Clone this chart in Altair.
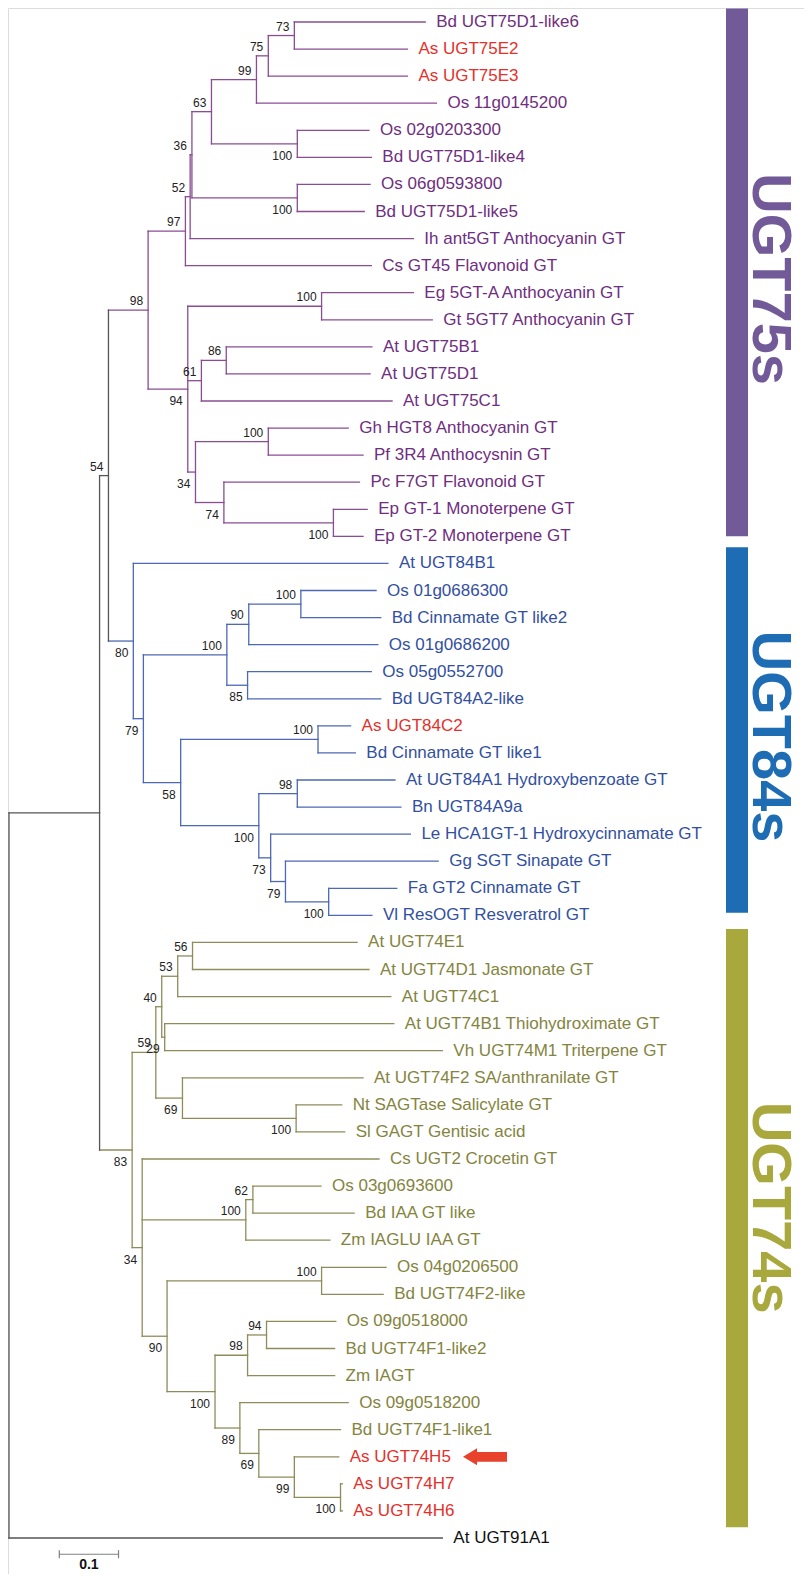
import altair as alt
import pandas as pd

# ---------------- data ----------------
leaf_names = [
    "Bd UGT75D1-like6", "As UGT75E2", "As UGT75E3", "Os 11g0145200", "Os 02g0203300",
    "Bd UGT75D1-like4", "Os 06g0593800", "Bd UGT75D1-like5", "Ih ant5GT Anthocyanin GT",
    "Cs GT45 Flavonoid GT", "Eg 5GT-A Anthocyanin GT", "Gt 5GT7 Anthocyanin GT",
    "At UGT75B1", "At UGT75D1", "At UGT75C1", "Gh HGT8 Anthocyanin GT",
    "Pf 3R4 Anthocysnin GT", "Pc F7GT Flavonoid GT", "Ep GT-1 Monoterpene GT",
    "Ep GT-2 Monoterpene GT",
    "At UGT84B1", "Os 01g0686300", "Bd Cinnamate GT like2", "Os 01g0686200",
    "Os 05g0552700", "Bd UGT84A2-like", "As UGT84C2", "Bd Cinnamate GT like1",
    "At UGT84A1 Hydroxybenzoate GT", "Bn UGT84A9a", "Le HCA1GT-1 Hydroxycinnamate GT",
    "Gg SGT Sinapate GT", "Fa GT2 Cinnamate GT", "Vl ResOGT Resveratrol GT",
    "At UGT74E1", "At UGT74D1 Jasmonate GT", "At UGT74C1", "At UGT74B1 Thiohydroximate  GT",
    "Vh UGT74M1 Triterpene GT", "At UGT74F2 SA/anthranilate GT", "Nt SAGTase Salicylate GT",
    "Sl GAGT Gentisic acid", "Cs UGT2 Crocetin GT", "Os 03g0693600", "Bd IAA GT like",
    "Zm IAGLU IAA GT", "Os 04g0206500", "Bd UGT74F2-like", "Os 09g0518000",
    "Bd UGT74F1-like2", "Zm IAGT", "Os 09g0518200", "Bd UGT74F1-like1",
    "As UGT74H5", "As UGT74H7", "As UGT74H6", "At UGT91A1",
]

# distance from the root to each tip
leaf_tip = [
    0.703, 0.673, 0.673, 0.722, 0.608, 0.612, 0.610, 0.600, 0.683, 0.612,
    0.683, 0.715, 0.613, 0.610, 0.647, 0.573, 0.598, 0.592, 0.605, 0.598,
    0.640, 0.620, 0.628, 0.623, 0.612, 0.628, 0.577, 0.585, 0.652, 0.662,
    0.678, 0.725, 0.655, 0.613,
    0.588, 0.608, 0.645, 0.650, 0.732, 0.598, 0.562, 0.567,
    0.625, 0.527, 0.583, 0.542, 0.637, 0.632, 0.552, 0.550, 0.550, 0.573,
    0.560, 0.557, 0.563, 0.563, 0.732,
]

node_ids = [
    "root", "n_in", "n54", "n98", "n97", "n52", "n36", "n63", "n99", "n75", "n73",
    "n100a", "n100b", "n94", "n100c", "n61", "n86", "n34a", "n100d", "n74", "n100e",
    "n80", "n79", "n100g", "n90", "n100f", "n85", "n58", "n100h", "n100j", "n98b",
    "n73b", "n79b", "n100i",
    "n83", "n59", "n40", "n53", "n56", "n29", "n69", "n100k", "n34b", "n100l", "n62",
    "n90c", "n100m", "n100o", "n98c", "n94b", "n89", "n69b", "n99c", "n100n",
]

node_x = [
    0.000, 0.153, 0.168, 0.235, 0.298, 0.306, 0.309, 0.342, 0.418, 0.438, 0.482,
    0.487, 0.487, 0.302, 0.528, 0.325, 0.367, 0.315, 0.438, 0.363, 0.548,
    0.210, 0.227, 0.368, 0.405, 0.493, 0.403, 0.290, 0.522, 0.422, 0.487,
    0.442, 0.467, 0.540,
    0.208, 0.248, 0.258, 0.285, 0.310, 0.263, 0.293, 0.485, 0.225, 0.400, 0.412,
    0.267, 0.528, 0.348, 0.403, 0.435, 0.390, 0.422, 0.482, 0.560,
]

node_support = [
    None, None, 54, 98, 97, 52, 36, 63, 99, 75, 73,
    100, 100, 94, 100, 61, 86, 34, 100, 74, 100,
    80, 79, 100, 90, 100, 85, 58, 100, 100, 98,
    73, 79, 100,
    83, 59, 40, 53, 56, 29, 69, 100, 34, 100, 62,
    90, 100, 100, 98, 94, 89, 69, 99, 100,
]

node_children = [
    ["n_in", "At UGT91A1"],
    ["n54", "n83"],
    ["n98", "n80"],
    ["n97", "n94"],
    ["n52", "Cs GT45 Flavonoid GT"],
    ["n36", "Ih ant5GT Anthocyanin GT"],
    ["n63", "n100b"],
    ["n99", "n100a"],
    ["n75", "Os 11g0145200"],
    ["n73", "As UGT75E3"],
    ["Bd UGT75D1-like6", "As UGT75E2"],
    ["Os 02g0203300", "Bd UGT75D1-like4"],
    ["Os 06g0593800", "Bd UGT75D1-like5"],
    ["n100c", "n61", "n34a"],
    ["Eg 5GT-A Anthocyanin GT", "Gt 5GT7 Anthocyanin GT"],
    ["n86", "At UGT75C1"],
    ["At UGT75B1", "At UGT75D1"],
    ["n100d", "n74"],
    ["Gh HGT8 Anthocyanin GT", "Pf 3R4 Anthocysnin GT"],
    ["Pc F7GT Flavonoid GT", "n100e"],
    ["Ep GT-1 Monoterpene GT", "Ep GT-2 Monoterpene GT"],
    ["At UGT84B1", "n79"],
    ["n100g", "n58"],
    ["n90", "n85"],
    ["n100f", "Os 01g0686200"],
    ["Os 01g0686300", "Bd Cinnamate GT like2"],
    ["Os 05g0552700", "Bd UGT84A2-like"],
    ["n100h", "n100j"],
    ["As UGT84C2", "Bd Cinnamate GT like1"],
    ["n98b", "n73b"],
    ["At UGT84A1 Hydroxybenzoate GT", "Bn UGT84A9a"],
    ["Le HCA1GT-1 Hydroxycinnamate GT", "n79b"],
    ["Gg SGT Sinapate GT", "n100i"],
    ["Fa GT2 Cinnamate GT", "Vl ResOGT Resveratrol GT"],
    ["n59", "n34b"],
    ["n40", "n69"],
    ["n53", "n29"],
    ["n56", "At UGT74C1"],
    ["At UGT74E1", "At UGT74D1 Jasmonate GT"],
    ["At UGT74B1 Thiohydroximate  GT", "Vh UGT74M1 Triterpene GT"],
    ["At UGT74F2 SA/anthranilate GT", "n100k"],
    ["Nt SAGTase Salicylate GT", "Sl GAGT Gentisic acid"],
    ["Cs UGT2 Crocetin GT", "n100l", "n90c"],
    ["n62", "Zm IAGLU IAA GT"],
    ["Os 03g0693600", "Bd IAA GT like"],
    ["n100m", "n100o"],
    ["Os 04g0206500", "Bd UGT74F2-like"],
    ["n98c", "n89"],
    ["n94b", "Zm IAGT"],
    ["Os 09g0518000", "Bd UGT74F1-like2"],
    ["Os 09g0518200", "n69b"],
    ["Bd UGT74F1-like1", "n99c"],
    ["As UGT74H5", "n100n"],
    ["As UGT74H7", "As UGT74H6"],
]

group_names = ["UGT75s", "UGT84s", "UGT74s"]
group_roots = ["n98", "n80", "n83"]
group_bar_start = [-0.5, 19.4, 33.5]     # in leaf rows
group_bar_end = [19.0, 32.9, 55.6]
group_label_row = [9.5, 26.4, 43.8]

highlight_prefix = "As "
arrow_leaf = "As UGT74H5"
scale_bar_start = 0.085
scale_bar_length = 0.1
scale_bar_label = "0.1"

# ---------------- styles ----------------
line_col = {"UGT75s": "#8A4C93", "UGT84s": "#4D68B5", "UGT74s": "#8E8C5B", "out": "#555555"}
label_col = {"UGT75s": "#6F2E7F", "UGT84s": "#33509F", "UGT74s": "#84843E", "out": "#111111"}
bar_col = {"UGT75s": "#725A98", "UGT84s": "#1D6CB4", "UGT74s": "#A8A83C"}
red = "#E5302A"
FONT = "Liberation Sans"

# ---------------- tree layout ----------------
xpos = dict(zip(leaf_names, leaf_tip))
xpos.update(zip(node_ids, node_x))
row = {n: i for i, n in enumerate(leaf_names)}
children = dict(zip(node_ids, node_children))
support = dict(zip(node_ids, node_support))
parent = {c: p for p, cs in children.items() for c in cs}


def ypos(n):
    if n in row:
        return float(row[n])
    cs = children[n]
    return (ypos(cs[0]) + ypos(cs[-1])) / 2


clade = {}


def assign(n, cl):
    if n in group_roots:
        cl = group_names[group_roots.index(n)]
    clade[n] = cl
    for c in children.get(n, []):
        assign(c, cl)


assign("root", "out")

edges = []
for n in list(leaf_names) + list(node_ids):
    if n != "root":
        p = parent[n]
        y = ypos(n)
        edges.append({"x": xpos[p], "x2": xpos[n], "y": y, "y2": y, "col": line_col[clade[n]]})
for n in node_ids:
    cs = children[n]
    edges.append({"x": xpos[n], "x2": xpos[n], "y": ypos(cs[0]), "y2": ypos(cs[-1]),
                  "col": line_col[clade[n]]})
edges_df = pd.DataFrame(edges)

leaves_df = pd.DataFrame({
    "name": leaf_names,
    "x": leaf_tip,
    "y": [float(i) for i in range(len(leaf_names))],
    "col": [red if n.startswith(highlight_prefix) else label_col[clade[n]] for n in leaf_names],
})

above, below = [], []
for n in node_ids:
    if support[n] is None:
        continue
    rec = {"x": xpos[n], "y": ypos(n), "t": str(support[n])}
    sib = children[parent[n]]
    (below if sib[-1] == n else above).append(rec)
above_df = pd.DataFrame(above)
below_df = pd.DataFrame(below)

groups_df = pd.DataFrame({
    "g": group_names,
    "y": group_bar_start,
    "y2": group_bar_end,
    "ly": group_label_row,
    "col": [bar_col[g] for g in group_names],
})

arrow_df = pd.DataFrame({"y": [float(row[arrow_leaf])]})

sb_row = 56.6
sbar_df = pd.DataFrame({
    "x": [scale_bar_start, scale_bar_start, scale_bar_start + scale_bar_length],
    "x2": [scale_bar_start + scale_bar_length, scale_bar_start, scale_bar_start + scale_bar_length],
    "y": [sb_row, sb_row - 0.15, sb_row - 0.15],
    "y2": [sb_row, sb_row + 0.15, sb_row + 0.15],
})
slabel_df = pd.DataFrame({"x": [scale_bar_start + scale_bar_length / 2], "y": [57.15],
                          "t": [scale_bar_label]})

# ---------------- scales ----------------
XS = alt.Scale(domain=[0, 0.75], range=[1, 445], nice=False, zero=False)
YS = alt.Scale(domain=[0, 56], range=[14, 1530], nice=False, zero=False)


def X(f):
    return alt.X(f, type="quantitative", scale=XS, axis=None)


def Y(f):
    return alt.Y(f, type="quantitative", scale=YS, axis=None)


C = alt.Color("col:N", scale=None, legend=None)

edge_layer = alt.Chart(edges_df).mark_rule(strokeWidth=1.3, strokeCap="square").encode(
    x=X("x"), x2="x2", y=Y("y"), y2="y2", color=C)

leaf_layer = alt.Chart(leaves_df).mark_text(
    align="left", baseline="middle", dx=11, fontSize=17, font=FONT).encode(
    x=X("x"), y=Y("y"), text="name:N", color=C)

above_layer = alt.Chart(above_df).mark_text(
    align="right", baseline="alphabetic", dx=-5, dy=-5, fontSize=12, font=FONT,
    color="#222222").encode(x=X("x"), y=Y("y"), text="t:N")

below_layer = alt.Chart(below_df).mark_text(
    align="right", baseline="alphabetic", dx=-5, dy=16, fontSize=12, font=FONT,
    color="#222222").encode(x=X("x"), y=Y("y"), text="t:N")

bar_layer = alt.Chart(groups_df).mark_rect().encode(
    x=alt.value(718), x2=alt.value(740), y=Y("y"), y2="y2", color=C)

glabel_layer = alt.Chart(groups_df).mark_text(
    angle=90, align="center", baseline="middle", fontSize=56, fontWeight="bold",
    font=FONT).encode(x=alt.value(762), y=Y("ly"), text="g:N", color=C)

arrow_path = ("M -1 0 L -0.36 -0.39 L -0.36 -0.22 L 1 -0.22 L 1 0.22 "
              "L -0.36 0.22 L -0.36 0.39 Z")
arrow_layer = alt.Chart(arrow_df).mark_point(
    shape=arrow_path, filled=True, size=1936, color="#E8412C", opacity=1,
    strokeWidth=0).encode(x=alt.value(477), y=Y("y"))

sbar_layer = alt.Chart(sbar_df).mark_rule(strokeWidth=1.2, color="#808080").encode(
    x=X("x"), x2="x2", y=Y("y"), y2="y2")

slabel_layer = alt.Chart(slabel_df).mark_text(
    align="center", baseline="alphabetic", fontSize=14, fontWeight="bold", font=FONT,
    color="#111111").encode(x=X("x"), y=Y("y"), text="t:N")

chart = alt.layer(
    edge_layer, leaf_layer, above_layer, below_layer, bar_layer, glabel_layer,
    arrow_layer, sbar_layer, slabel_layer,
).properties(
    width=796, height=1566, padding=0, autosize=alt.AutoSizeParams(type="none"),
).configure_view(stroke=None).configure(background="white")

chart.save("out.html", embed_options={"renderer": "svg", "actions": False})
